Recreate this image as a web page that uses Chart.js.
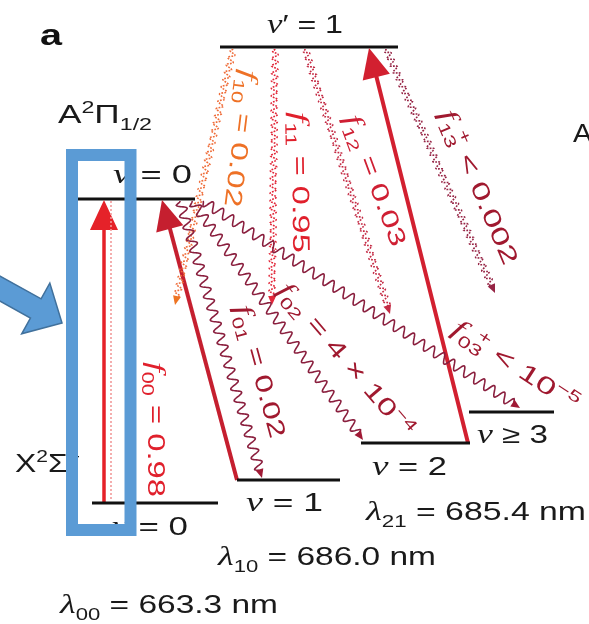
<!DOCTYPE html>
<html lang="en">
<head>
  <meta charset="UTF-8">
  <title>Laser cooling scheme</title>
  <style>
    body { margin: 0; background: #fff; }
    #chart-container { width: 589px; height: 624px; position: relative; }
  </style>
</head>
<body>
  <div id="chart-container">
    <canvas id="levelChart"></canvas>
  </div>

  <script src="https://cdn.jsdelivr.net/npm/chart.js"></script>
  <script>
    // vibrational levels, in picture units (y grows downwards)
    const levelLabels = ['*v*′ = 1', '*v* = 0', '*v* = 0', '*v* = 1', '*v* = 2', '*v* ≥ 3'];
    const levelStart = [220, 72, 92, 237, 361, 469];
    const levelEnd = [398, 195, 218, 340, 470, 554];
    const levelHeight = [47, 199, 503, 480, 443, 412];

    // pump lasers (lower level -> upper level)
    const pumpNames = ['00', '10', '21'];
    const pumpWavelengths = ['663.3', '686.0', '685.4'];
    const pumpLower = [2, 3, 4];
    const pumpUpper = [1, 1, 0];
    const pumpLowerX = [104, 237, 468];
    const pumpUpperX = [104, 162, 369];

    // spontaneous decays and branching ratios
    const decayNames = ['10', '11', '12', '13+', '00', '01', '02', '03+'];
    const decayRatios = ['= 0.02', '= 0.95', '= 0.03', '< 0.002', '= 0.98', '= 0.02', '= 4 × 10^{−4}', '< 10^{−5}'];
    const decayFrom = [0, 0, 0, 0, 1, 1, 1, 1];
    const decayStartX = [233, 275, 305, 386, 111, 180, 192, 203];
    const decayEndX = [175, 272, 390, 495, 111, 262, 363, 520];
    const decayEndY = [305, 305, 314, 293, 501, 478, 440, 408];

    const stateLabels = ['A^{2}Π_{1/2}', 'X^{2}Σ^{+}', 'A'];

    // ---- layout / styles ----
    const SANS = '"Liberation Sans", Arial, sans-serif';
    const SERIF = '"Liberation Serif", "DejaVu Serif", serif';

    const pumpColors = ['#e52229', '#c51f2f', '#d22030'];
    const decayStyle = [
      { kind: 'dot', color: '#ef6d3a', head: '#ee7422', text: '#ee7126' },
      { kind: 'dot', color: '#e2283a', head: '#e2283a', text: '#e0202c' },
      { kind: 'dot', color: '#c42a44', head: '#c42a44', text: '#cf1f33' },
      { kind: 'dot', color: '#962445', head: '#962445', text: '#a0192f' },
      { kind: 'line', color: '#f29a9a', head: null, text: '#e0202c' },
      { kind: 'wave', color: '#8a1f3e', head: '#a01a35', text: '#a0192f' },
      { kind: 'wave', color: '#8a1f3e', head: '#a01a35', text: '#a0192f' },
      { kind: 'wave', color: '#8a1f3e', head: '#a01a35', text: '#a0192f' }
    ];
    // rotated label centre line: start -> end
    const decayLabelPos = [
      [250, 70, 233, 207], [300, 112, 302, 253], [352, 115, 400, 245], [447, 110, 512, 263],
      [157, 362, 157, 497], [243, 305, 279, 437], [283, 285, 410, 433], [455, 325, 577, 405]
    ];
    // horizontal labels: left, right, baseline, size
    const levelLabelPos = [
      [267, 343, 33, 25], [113, 192, 183, 25], [112, 188, 535, 25],
      [246, 323, 511, 25], [372, 447, 475, 25], [477, 548, 443, 25]
    ];
    const stateLabelPos = [[58, 152, 123, 26], [15, 80, 472, 26], [573, 592, 142, 26]];
    const pumpLabelPos = [[60, 278, 613, 26], [218, 436, 565, 26], [366, 586, 520, 26]];

    function parseRich(str) {
      return str.split(/(_\{[^}]*\}|\^\{[^}]*\}|\*[^*]+\*)/).filter(Boolean).map(p => {
        if (p.startsWith('_{')) return { t: p.slice(2, -1), k: 'sub' };
        if (p.startsWith('^{')) return { t: p.slice(2, -1), k: 'sup' };
        if (p.startsWith('*')) return { t: p.slice(1, -1), k: 'it' };
        return { t: p, k: 'n' };
      });
    }
    function segFont(k, size, bold) {
      const w = bold ? 'bold ' : '';
      if (k === 'it') return `italic ${size * 1.08}px ${SERIF}`;
      if (k === 'sub' || k === 'sup') return `${w}${size * 0.66}px ${SANS}`;
      return `${w}${size}px ${SANS}`;
    }
    function segDy(k, size) { return k === 'sub' ? size * 0.26 : (k === 'sup' ? -size * 0.4 : 0); }
    // a superscript straight after a subscript sits above it, not after it
    function segAdvance(ctx, segs, i) {
      const w = ctx.measureText(segs[i].t).width;
      if (segs[i].k === 'sub' && segs[i + 1] && segs[i + 1].k === 'sup') return w * 0.55;
      return w;
    }
    function richWidth(ctx, segs, size, bold) {
      let w = 0;
      segs.forEach((s, i) => { ctx.font = segFont(s.k, size, bold); w += segAdvance(ctx, segs, i); });
      return w;
    }
    function richDraw(ctx, segs, size, bold) {
      let x = 0;
      segs.forEach((s, i) => {
        ctx.font = segFont(s.k, size, bold);
        ctx.fillText(s.t, x, segDy(s.k, size));
        x += segAdvance(ctx, segs, i);
      });
    }

    function flatLabel(ctx, sx, sy, str, pos, color, bold) {
      const segs = parseRich(str);
      const [l, r, b, size] = pos;
      const w = richWidth(ctx, segs, size, bold);
      ctx.save();
      ctx.fillStyle = color;
      ctx.textBaseline = 'alphabetic';
      ctx.translate(sx(l), sy(b));
      ctx.scale((sx(r) - sx(l)) / w, 1);
      richDraw(ctx, segs, size, bold);
      ctx.restore();
    }

    function slantLabel(ctx, sx, sy, str, pos, color, size) {
      const segs = parseRich(str);
      const x0 = sx(pos[0]), y0 = sy(pos[1]), x1 = sx(pos[2]), y1 = sy(pos[3]);
      const L = Math.hypot(x1 - x0, y1 - y0);
      const w = richWidth(ctx, segs, size, false);
      ctx.save();
      ctx.fillStyle = color;
      ctx.textBaseline = 'alphabetic';
      ctx.translate(x0, y0);
      ctx.rotate(Math.atan2(y1 - y0, x1 - x0));
      ctx.scale(L / w, 1);
      ctx.translate(0, size * 0.36);
      richDraw(ctx, segs, size, false);
      ctx.restore();
    }

    function wavePath(ctx, x0, y0, x1, y1, wl, amp, stopShort) {
      const D = Math.hypot(x1 - x0, y1 - y0);
      const ux = (x1 - x0) / D, uy = (y1 - y0) / D;
      const L = D - stopShort;
      ctx.beginPath();
      for (let s = 0; s <= L; s += 0.5) {
        const env = Math.min(1, s / 3, (L - s) / 3);
        const a = amp * env * Math.sin(2 * Math.PI * s / wl);
        const px = x0 + ux * s - uy * a, py = y0 + uy * s + ux * a;
        if (s === 0) ctx.moveTo(px, py); else ctx.lineTo(px, py);
      }
      ctx.stroke();
    }

    function arrowHead(ctx, x0, y0, x1, y1, len, hw, color) {
      ctx.save();
      ctx.translate(x1, y1);
      ctx.rotate(Math.atan2(y1 - y0, x1 - x0));
      ctx.beginPath();
      ctx.moveTo(0, 0);
      ctx.lineTo(-len, -hw);
      ctx.lineTo(-len, hw);
      ctx.closePath();
      ctx.fillStyle = color;
      ctx.fill();
      ctx.restore();
    }

    const diagramPlugin = {
      id: 'diagram',
      afterDatasetsDraw(chart) {
        const ctx = chart.ctx;
        const sx = v => chart.scales.x.getPixelForValue(v);
        const sy = v => chart.scales.y.getPixelForValue(v);

        // pump arrow heads
        pumpNames.forEach((n, i) => {
          arrowHead(ctx, sx(pumpLowerX[i]), sy(levelHeight[pumpLower[i]]),
            sx(pumpUpperX[i]), sy(levelHeight[pumpUpper[i]]) + 1, 30, 14, pumpColors[i]);
        });

        // decays
        decayNames.forEach((n, i) => {
          const st = decayStyle[i];
          const x0 = sx(decayStartX[i]), y0 = sy(levelHeight[decayFrom[i]] + 2);
          const x1 = sx(decayEndX[i]), y1 = sy(decayEndY[i]);
          ctx.save();
          ctx.strokeStyle = st.color;
          if (st.kind === 'line') {
            ctx.lineWidth = 1.6;
            ctx.setLineDash([2, 2]);
            ctx.beginPath(); ctx.moveTo(x0, y0); ctx.lineTo(x1, y1); ctx.stroke();
          } else if (st.kind === 'dot') {
            ctx.lineWidth = 1.6;
            ctx.setLineDash([1.8, 1.2]);
            wavePath(ctx, x0, y0, x1, y1, 7.5, 3.2, 7);
          } else {
            ctx.lineWidth = 1.6;
            wavePath(ctx, x0, y0, x1, y1, 12, 4.8, 7);
          }
          ctx.restore();
          if (st.head) arrowHead(ctx, x0, y0, x1, y1, 9, 4, st.head);
          const sub = n.includes('+') ? n.replace('+', '') + '}^{+}' : n + '}';
          slantLabel(ctx, sx, sy, '*f*_{' + sub + ' ' + decayRatios[i], decayLabelPos[i], st.text, 24);
        });
      },
      afterDraw(chart) {
        const ctx = chart.ctx;
        const sx = v => chart.scales.x.getPixelForValue(v);
        const sy = v => chart.scales.y.getPixelForValue(v);

        flatLabel(ctx, sx, sy, 'a', [40, 62, 45, 30], '#111', true);
        levelLabels.forEach((t, i) => flatLabel(ctx, sx, sy, t, levelLabelPos[i], '#1a1a1a', false));
        stateLabels.forEach((t, i) => flatLabel(ctx, sx, sy, t, stateLabelPos[i], '#1a1a1a', false));
        pumpNames.forEach((n, i) => flatLabel(ctx, sx, sy, '*λ*_{' + n + '} = ' + pumpWavelengths[i] + ' nm',
          pumpLabelPos[i], '#1a1a1a', false));

        // blue highlight box
        ctx.save();
        ctx.strokeStyle = '#5b9bd5';
        ctx.lineWidth = 12;
        ctx.strokeRect(sx(72), sy(155), sx(130.5) - sx(72), sy(530) - sy(155));
        ctx.restore();

        // blue block arrow pointing at the box
        const a = 29 * Math.PI / 180, ux = Math.cos(a), uy = Math.sin(a), nx = -uy, ny = ux;
        const tx = sx(62), ty = sy(323);
        const bx = tx - 30 * ux, by = ty - 30 * uy;
        const ex = bx - 90 * ux, ey = by - 90 * uy;
        ctx.save();
        ctx.beginPath();
        ctx.moveTo(tx, ty);
        ctx.lineTo(bx + 29 * nx, by + 29 * ny);
        ctx.lineTo(bx + 11 * nx, by + 11 * ny);
        ctx.lineTo(ex + 11 * nx, ey + 11 * ny);
        ctx.lineTo(ex - 11 * nx, ey - 11 * ny);
        ctx.lineTo(bx - 11 * nx, by - 11 * ny);
        ctx.lineTo(bx - 29 * nx, by - 29 * ny);
        ctx.closePath();
        ctx.fillStyle = '#5b9bd5';
        ctx.fill();
        ctx.strokeStyle = '#41719c';
        ctx.lineWidth = 1.5;
        ctx.stroke();
        ctx.restore();
      }
    };

    const levelSets = levelLabels.map((t, i) => ({
      label: t,
      data: [{ x: levelStart[i], y: levelHeight[i] }, { x: levelEnd[i], y: levelHeight[i] }],
      showLine: true,
      borderColor: '#111',
      borderWidth: 3,
      pointRadius: 0,
      clip: false
    }));
    // shaft stops 20 units short of the tip, along the arrow's own direction
    const pumpSets = pumpNames.map((n, i) => {
      const x0 = pumpLowerX[i], y0 = levelHeight[pumpLower[i]];
      const x1 = pumpUpperX[i], y1 = levelHeight[pumpUpper[i]];
      const d = Math.hypot(x1 - x0, y1 - y0);
      return {
        label: 'λ' + n,
        data: [{ x: x0, y: y0 }, { x: x1 - 20 * (x1 - x0) / d, y: y1 - 20 * (y1 - y0) / d }],
        showLine: true,
        borderColor: pumpColors[i],
        borderWidth: i === 0 ? 3.5 : 4,
        pointRadius: 0,
        clip: false
      };
    });

    const ctx = document.getElementById('levelChart').getContext('2d');
    const chart = new Chart(ctx, {
      type: 'scatter',
      data: { datasets: levelSets.concat(pumpSets) },
      options: {
        animation: false,
        responsive: true,
        maintainAspectRatio: false,
        layout: { padding: 0 },
        plugins: { legend: { display: false }, tooltip: { enabled: false } },
        scales: {
          x: { type: 'linear', min: 0, max: 589, display: false },
          y: { type: 'linear', min: 0, max: 624, reverse: true, display: false }
        }
      },
      plugins: [diagramPlugin]
    });
  </script>
</body>
</html>
